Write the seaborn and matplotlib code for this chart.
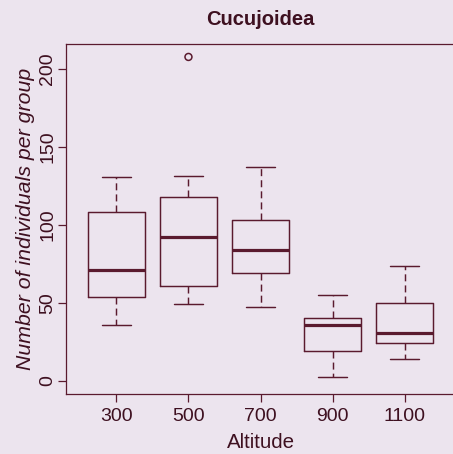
import matplotlib
matplotlib.use("Agg")
import matplotlib.pyplot as plt
import seaborn as sns
import pandas as pd

# Data (five-number summaries per altitude)
altitudes = ["300", "500", "700", "900", "1100"]
lower_whisker = [35.5, 49.0, 47.0, 2.6, 14.0]
q1 = [53.5, 60.6, 69.0, 19.4, 24.3]
median = [71.0, 92.0, 84.0, 35.5, 30.5]
q3 = [108.0, 118.0, 103.0, 40.5, 50.0]
upper_whisker = [131.0, 131.6, 137.0, 55.0, 73.7]
outlier_group = ["500"]
outlier_value = [207.7]
y_ticks = [0, 50, 100, 150, 200]

BG = "#ece4ee"
LINE = "#5a1a2e"
TEXT = "#3e1020"

sns.set_style("white")
plt.rcParams["font.family"] = ["Liberation Sans", "DejaVu Sans"]

rows = []
for i, a in enumerate(altitudes):
    for v in (lower_whisker[i], q1[i], median[i], q3[i], upper_whisker[i]):
        rows.append({"Altitude": a, "Count": v})
df = pd.DataFrame(rows)
df_out = pd.DataFrame({"Altitude": outlier_group, "Count": outlier_value})

fig = plt.figure(figsize=(4.53, 4.54), dpi=100, facecolor=BG)
ax = fig.add_axes([66 / 453, 1 - 394 / 454, (455 - 66) / 453, (394 - 44) / 454])
ax.set_facecolor(BG)

sns.boxplot(
    data=df, x="Altitude", y="Count", order=altitudes, ax=ax,
    fill=False, color=LINE, linecolor=LINE, linewidth=1.05, width=0.8,
    whis=(0, 100), showfliers=False,
    whiskerprops={"linestyle": (0, (4.8, 2.8))},
    medianprops={"linewidth": 2.3},
)
sns.stripplot(
    data=df_out, x="Altitude", y="Count", order=altitudes, ax=ax,
    jitter=False, color="none", edgecolor=LINE, linewidth=1.1, size=5,
)

ax.set_xlim(-0.7, 4.7)
ax.set_ylim(-8.5, 216)
ax.set_yticks(y_ticks)
ax.set_yticklabels([str(t) for t in y_ticks], rotation=90, va="center")

for s in ax.spines.values():
    s.set_color(LINE)
    s.set_linewidth(0.9)
    s.set_visible(True)

ax.tick_params(axis="both", colors=LINE, labelcolor=TEXT, labelsize=14,
               length=6, width=0.9, direction="out", left=True, bottom=True)
ax.tick_params(axis="x", pad=4)
ax.tick_params(axis="y", pad=1)

ax.set_xlabel("Altitude", fontsize=14.8, color=TEXT, labelpad=6)
ax.set_ylabel("Number of individuals per group", fontsize=15.3, color=TEXT,
              style="italic", labelpad=3)
ax.set_title("Cucujoidea", fontsize=14.5, fontweight="bold", color=TEXT, pad=14)

fig.savefig("out.png", dpi=100, facecolor=BG)
